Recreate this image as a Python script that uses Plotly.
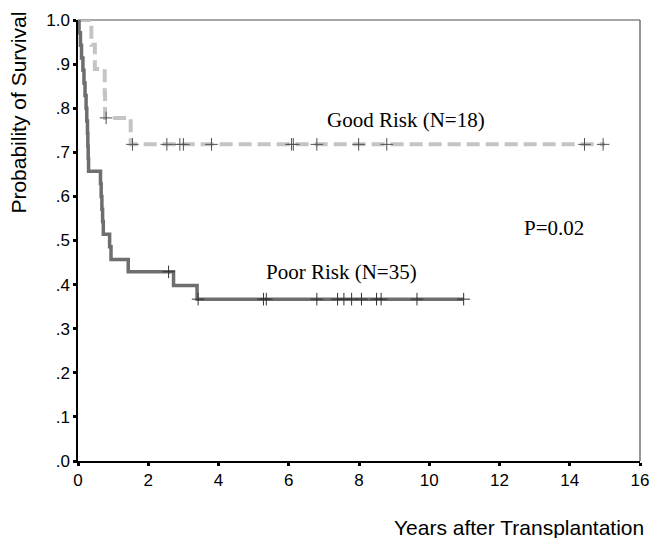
import plotly.graph_objects as go
import numpy as np

# ---- data ----
poor_t = [0, 0.03, 0.07, 0.10, 0.14, 0.17, 0.20, 0.23, 0.25, 0.27, 0.28, 0.29, 0.30,
          0.64, 0.66, 0.68, 0.70, 0.72, 0.90, 0.94, 1.43, 2.72, 3.39, 10.98]
poor_s = [1.0, .971, .943, .914, .886, .857, .829, .800, .771, .743, .714, .686, .657,
          .629, .600, .571, .543, .514, .486, .457, .429, .398, .367, .367]
poor_cens = [2.58, 3.42, 5.28, 5.36, 6.80, 7.39, 7.57, 7.79, 8.07, 8.50, 8.63, 9.65, 10.98]

good_t = [0, 0.38, 0.48, 0.76, 0.77, 1.50, 15.0]
good_s = [1.0, .944, .889, .833, .778, .718, .718]
good_cens = [0.80, 1.55, 2.53, 2.90, 3.00, 3.80, 6.08, 6.13, 6.80, 7.99, 8.79, 14.42, 14.95]

x_ticks = [0, 2, 4, 6, 8, 10, 12, 14, 16]
y_ticks = [0, .1, .2, .3, .4, .5, .6, .7, .8, .9, 1.0]
y_ticktext = [".0", ".1", ".2", ".3", ".4", ".5", ".6", ".7", ".8", ".9", "1.0"]


def level_at(ts, ss, t):
    idx = np.searchsorted(ts, t, side="right") - 1
    return ss[max(idx, 0)]


SANS = "Arial, Liberation Sans, sans-serif"
SERIF = "Times New Roman, Liberation Serif, serif"

fig = go.Figure()
fig.add_trace(go.Scatter(x=good_t, y=good_s, mode="lines", line_shape="hv",
                         line=dict(color="#c4c4c4", width=4, dash="13px,6px"),
                         showlegend=False, hoverinfo="skip", cliponaxis=False))
fig.add_trace(go.Scatter(x=poor_t, y=poor_s, mode="lines", line_shape="hv",
                         line=dict(color="#6e6e6e", width=3.5),
                         showlegend=False, hoverinfo="skip", cliponaxis=False))
fig.add_trace(go.Scatter(x=good_cens, y=[level_at(good_t, good_s, t) for t in good_cens],
                         mode="markers",
                         marker=dict(symbol="cross-thin", size=9, line=dict(color="#505050", width=1)),
                         showlegend=False, hoverinfo="skip"))
fig.add_trace(go.Scatter(x=poor_cens, y=[level_at(poor_t, poor_s, t) for t in poor_cens],
                         mode="markers",
                         marker=dict(symbol="cross-thin", size=9, line=dict(color="#303030", width=1)),
                         showlegend=False, hoverinfo="skip"))

fig.add_annotation(x=9.33, y=.773, text="Good Risk (N=18)", showarrow=False,
                   font=dict(family=SERIF, size=21, color="black"))
fig.add_annotation(x=7.51, y=.429, text="Poor Risk (N=35)", showarrow=False,
                   font=dict(family=SERIF, size=21, color="black"))
fig.add_annotation(x=13.56, y=.528, text="P=0.02", showarrow=False,
                   font=dict(family=SERIF, size=21, color="black"))
fig.add_annotation(xref="paper", yref="paper", x=-0.105, y=0.79, text="Probability of Survival",
                   textangle=-90, showarrow=False, xanchor="center", yanchor="middle",
                   font=dict(family=SANS, size=21, color="black"))
fig.add_annotation(xref="paper", yref="paper", x=1.011, y=-0.15, text="Years after Transplantation",
                   showarrow=False, xanchor="right", yanchor="middle",
                   font=dict(family=SANS, size=21, color="black"))

# frame: top and right thinner grey lines
fig.add_shape(type="line", xref="paper", yref="paper", x0=0, x1=1, y0=1, y1=1,
              line=dict(color="#505050", width=1.2), layer="below")
fig.add_shape(type="line", xref="paper", yref="paper", x0=1, x1=1, y0=0, y1=1,
              line=dict(color="#505050", width=1.2), layer="below")

fig.update_xaxes(range=[0, 16], tickvals=x_ticks, ticks="outside", ticklen=3, tickwidth=3,
                 tickcolor="black", showline=True, linecolor="black", linewidth=1.5,
                 showgrid=False, zeroline=False, tickfont=dict(family=SANS, size=17, color="black"))
fig.update_yaxes(range=[0, 1.0], tickvals=y_ticks, ticktext=y_ticktext, ticks="outside", ticklen=3,
                 tickwidth=3, tickcolor="black", showline=True, linecolor="black", linewidth=1.5,
                 showgrid=False, zeroline=False,
                 tickfont=dict(family=SANS, size=17, color="black"))

fig.update_layout(width=659, height=538, autosize=False, margin=dict(l=78, r=10, t=20, b=77),
                  plot_bgcolor="white", paper_bgcolor="white")

fig.write_html("out.html",
               post_script="document.body.style.margin='0';")
